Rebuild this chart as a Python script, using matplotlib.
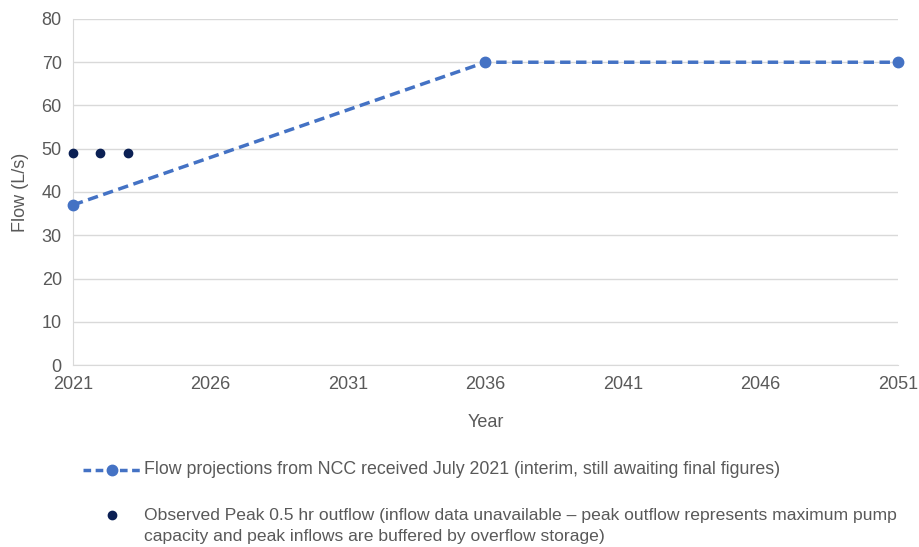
import matplotlib.pyplot as plt
from matplotlib.lines import Line2D

years_proj = [2021, 2036, 2051]
flow_proj = [37, 70, 70]
years_obs = [2021, 2022, 2023]
flow_obs = [49, 49, 49]
x_ticks = [2021, 2026, 2031, 2036, 2041, 2046, 2051]
y_ticks = [0, 10, 20, 30, 40, 50, 60, 70, 80]

proj_label = 'Flow projections from NCC received July 2021 (interim, still awaiting final figures)'
obs_label = ('Observed Peak 0.5 hr outflow (inflow data unavailable \u2013 peak outflow represents maximum pump\n'
             'capacity and peak inflows are buffered by overflow storage)')

plt.rcParams['font.family'] = ['Liberation Sans', 'DejaVu Sans']
text_col = '#595959'
grid_col = '#D9D9D9'
proj_col = '#4472C4'
obs_col = '#0B2054'

fig = plt.figure(figsize=(9.19, 5.47), dpi=100)
ax = fig.add_axes([0.0794, 0.3327, 0.8976, 0.6326])

ax.plot(years_proj, flow_proj, color=proj_col, linestyle=(0, (3, 1.6)), linewidth=2.5,
        marker='o', markersize=7.5, clip_on=False, zorder=3)
ax.plot(years_obs, flow_obs, linestyle='none', marker='o', markersize=6,
        color=obs_col, clip_on=False, zorder=4)

ax.set_xlim(2021, 2051)
ax.set_ylim(0, 80)
ax.set_xticks(x_ticks)
ax.set_yticks(y_ticks)
ax.yaxis.grid(True, color=grid_col, linewidth=1)
ax.set_axisbelow(True)
for side in ['top', 'right']:
    ax.spines[side].set_visible(False)
ax.spines['left'].set_color(grid_col)
ax.spines['bottom'].set_color(grid_col)
ax.tick_params(length=0, labelsize=13, colors=text_col, pad=8)
ax.set_xlabel('Year', fontsize=13, color=text_col, labelpad=15)
ax.set_ylabel('Flow (L/s)', fontsize=13, color=text_col, labelpad=9)

# legend drawn below the axes
fig.add_artist(Line2D([0.0903, 0.1219, 0.1545], [0.141, 0.141, 0.141], transform=fig.transFigure,
                      color=proj_col, linestyle=(0, (2.2, 1.3)), linewidth=2.5,
                      marker='o', markevery=[1], markersize=7.5))
fig.text(0.157, 0.141, proj_label, fontsize=12.8, color=text_col, va='center')
fig.add_artist(Line2D([0.1219], [0.058], transform=fig.transFigure, linestyle='none',
                      marker='o', markersize=6, color=obs_col))
fig.text(0.157, 0.071, obs_label, fontsize=12.6, color=text_col, va='top', linespacing=1.45)

fig.savefig('out.png', dpi=100)
